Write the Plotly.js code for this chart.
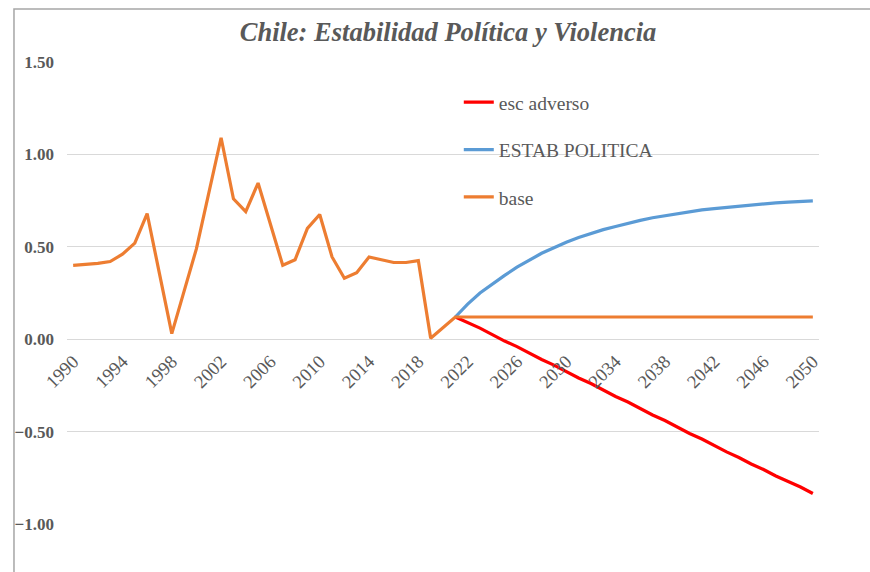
<!DOCTYPE html>
<html>
<head>
<meta charset="utf-8">
<script src="https://cdn.plot.ly/plotly-3.0.1.min.js"></script>
<style>
  html, body { margin: 0; padding: 0; background: #fff; }
  #chart { width: 870px; height: 572px; }
</style>
</head>
<body>
<div id="chart"></div>
<script>
// Años (eje de categorías)
const years = [
  1990, 1991, 1992, 1993, 1994, 1995, 1996, 1997, 1998, 1999,
  2000, 2001, 2002, 2003, 2004, 2005, 2006, 2007, 2008, 2009,
  2010, 2011, 2012, 2013, 2014, 2015, 2016, 2017, 2018, 2019,
  2020, 2021, 2022, 2023, 2024, 2025, 2026, 2027, 2028, 2029,
  2030, 2031, 2032, 2033, 2034, 2035, 2036, 2037, 2038, 2039,
  2040, 2041, 2042, 2043, 2044, 2045, 2046, 2047, 2048, 2049,
  2050
];

// Escenario base: histórico + valor constante
const base = [
  0.40, 0.405, 0.41, 0.42, 0.46, 0.52, 0.68, 0.355, 0.03, 0.26,
  0.49, 0.79, 1.09, 0.76, 0.69, 0.845, 0.62, 0.40, 0.43, 0.60,
  0.675, 0.445, 0.33, 0.36, 0.445, 0.43, 0.415, 0.415, 0.425, 0.005,
  0.065, 0.12, 0.12, 0.12, 0.12, 0.12, 0.12, 0.12, 0.12, 0.12,
  0.12, 0.12, 0.12, 0.12, 0.12, 0.12, 0.12, 0.12, 0.12, 0.12,
  0.12, 0.12, 0.12, 0.12, 0.12, 0.12, 0.12, 0.12, 0.12, 0.12,
  0.12
];

// Proyección de estabilidad política (desde 2021)
const estabPolitica = [
  null, null, null, null, null, null, null, null, null, null,
  null, null, null, null, null, null, null, null, null, null,
  null, null, null, null, null, null, null, null, null, null,
  null, 0.12, 0.19, 0.25, 0.30, 0.345, 0.39, 0.43, 0.465, 0.495,
  0.525, 0.55, 0.572, 0.593, 0.61, 0.628, 0.643, 0.657, 0.668, 0.68,
  0.69, 0.70, 0.707, 0.714, 0.72, 0.727, 0.733, 0.738, 0.742, 0.745,
  0.749
];

// Escenario adverso (desde 2021)
const escAdverso = [
  null, null, null, null, null, null, null, null, null, null,
  null, null, null, null, null, null, null, null, null, null,
  null, null, null, null, null, null, null, null, null, null,
  null, 0.12, 0.09, 0.06, 0.025, -0.01, -0.04, -0.075, -0.11, -0.14,
  -0.175, -0.21, -0.24, -0.275, -0.31, -0.34, -0.375, -0.41, -0.44, -0.475,
  -0.51, -0.54, -0.575, -0.61, -0.64, -0.675, -0.705, -0.74, -0.77, -0.80,
  -0.835
];

const gris = "#595959";
const serif = "Liberation Serif, Times New Roman, serif";

const data = [
  {
    x: years, y: escAdverso, type: "scatter", mode: "lines",
    name: "esc adverso", legendgroup: "a",
    line: { color: "#ff0000", width: 3.2 },
  },
  {
    x: years, y: estabPolitica, type: "scatter", mode: "lines",
    name: "ESTAB POLITICA", legendgroup: "b",
    line: { color: "#5b9bd5", width: 3.2 },
  },
  {
    x: years, y: base, type: "scatter", mode: "lines",
    name: "base", legendgroup: "c",
    line: { color: "#ed7d31", width: 3.2 },
  },
];

const layout = {
  width: 870,
  height: 572,
  margin: { l: 67, r: 51, t: 62, b: 48 },
  paper_bgcolor: "#fff",
  plot_bgcolor: "#fff",
  title: {
    text: "<b><i>Chile: Estabilidad Política y Violencia</i></b>",
    font: { family: serif, size: 26.5, color: gris },
    xref: "container", x: 0.515, xanchor: "center",
    yref: "container", y: 0.944, yanchor: "middle",
  },
  xaxis: {
    range: [1989.5, 2050.5],
    tick0: 1990,
    dtick: 4,
    tickangle: -45,
    showgrid: false,
    zeroline: false,
    showline: false,
    anchor: "free",
    position: 0.4, // el eje de categorías cruza en y = 0
    ticklabelstandoff: 7,
    tickfont: { family: serif, size: 18.5, color: gris },
  },
  yaxis: {
    range: [-1, 1.5],
    dtick: 0.5,
    tickformat: ".2f",
    showgrid: true,
    gridcolor: "#d9d9d9",
    zeroline: false,
    showline: false,
    ticklabelstandoff: 12,
    tickfont: { family: serif, size: 17, color: gris, weight: "bold" },
  },
  legend: {
    x: 0.521, xanchor: "left",
    y: 0.9545, yanchor: "top",
    bgcolor: "rgba(0,0,0,0)",
    tracegroupgap: 19,
    font: { family: serif, size: 19.5, color: gris },
  },
  showlegend: true,
  shapes: [
    {
      type: "rect", xref: "paper", yref: "paper",
      x0: -0.0705, x1: 2, y0: -1, y1: 1.1147,
      line: { color: "#a6a6a6", width: 1.5 },
      fillcolor: "rgba(0,0,0,0)",
      layer: "below",
    },
  ],
};

Plotly.newPlot("chart", data, layout, { displayModeBar: false, staticPlot: true });
</script>
</body>
</html>
